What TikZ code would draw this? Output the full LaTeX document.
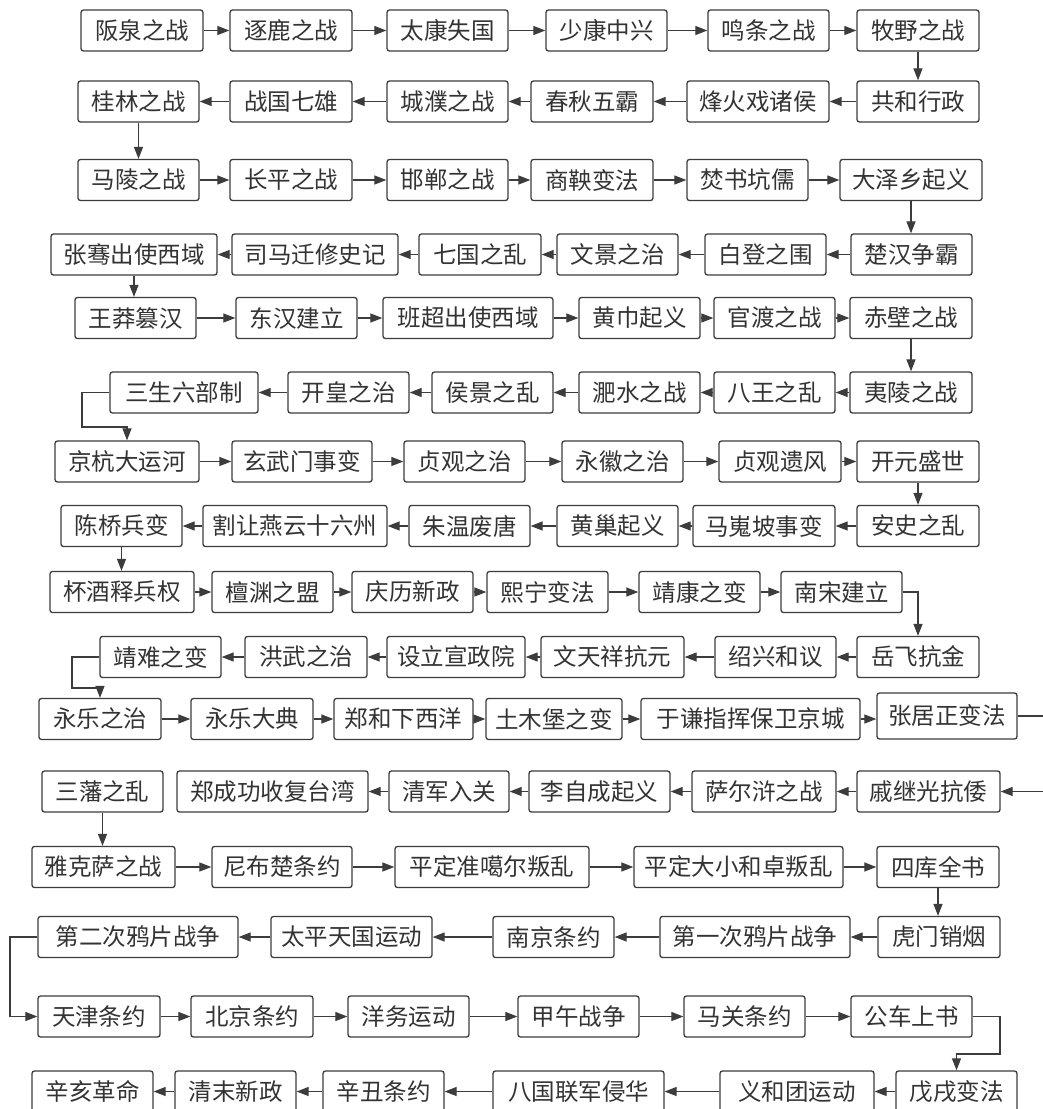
\documentclass[tikz,border=0pt]{standalone}
\usepackage{fontspec}
\newfontfamily\cjk{Noto Sans CJK SC}
\usetikzlibrary{arrows.meta}
\definecolor{ink}{HTML}{333333}
\definecolor{edge}{HTML}{3C3C3C}
\newcommand\evt[6]{\node[evbox,minimum width={#3-#2},minimum height=#5] (#1) at ({(#2+#3)/2},#4) {#6};}
\begin{document}
\begin{tikzpicture}[x=1pt,y=-1pt,
  evbox/.style={draw=edge, line width=1.3pt, rounded corners=2.5pt, inner sep=0pt,
    font=\cjk\fontsize{23.5}{23.5}\selectfont, text=ink, fill=white},
  link/.style={draw=edge, line width=1.2pt, -{Triangle[length=12pt,width=9pt]}}]
\useasboundingbox (0,0) rectangle (1043,1109);
\fill[white] (0,0) rectangle (1043,1109);
% Row 1
\evt{banquan}{81}{203}{30.5}{41}{阪泉之战}
\evt{zhulu}{230}{352}{30.5}{41}{逐鹿之战}
\evt{taikang}{387}{508}{30.5}{41}{太康失国}
\evt{shaokang}{546}{667}{30.5}{41}{少康中兴}
\evt{mingtiao}{708}{829}{30.5}{41}{鸣条之战}
\evt{muye}{857}{979}{30.5}{41}{牧野之战}
% Row 2
\evt{guilin}{78}{199}{101.5}{41}{桂林之战}
\evt{zhanguo}{230}{352}{101.5}{41}{战国七雄}
\evt{chengpu}{387}{508}{101.5}{41}{城濮之战}
\evt{chunqiu}{531}{653}{101.5}{41}{春秋五霸}
\evt{fenghuo}{687}{829}{101.5}{41}{烽火戏诸侯}
\evt{gonghe}{857}{979}{101.5}{41}{共和行政}
% Row 3
\evt{maling}{78}{199}{180}{41}{马陵之战}
\evt{changping}{230}{352}{180}{41}{长平之战}
\evt{handan}{387}{508}{180}{41}{邯郸之战}
\evt{shangyang}{531}{653}{180}{41}{商鞅变法}
\evt{fenshu}{687}{808}{180}{41}{焚书坑儒}
\evt{dazexiang}{840}{982}{180}{41}{大泽乡起义}
% Row 4
\evt{zhangqian}{51}{217}{254.5}{41}{张骞出使西域}
\evt{simaqian}{232}{398}{254.5}{41}{司马迁修史记}
\evt{qiguo}{419}{541}{254.5}{41}{七国之乱}
\evt{wenjing}{557}{678}{254.5}{41}{文景之治}
\evt{baideng}{705}{826}{254.5}{41}{白登之围}
\evt{chuhan}{851}{972}{254.5}{41}{楚汉争霸}
% Row 5
\evt{wangmang}{75}{196}{318}{41}{王莽篡汉}
\evt{donghan}{236}{357}{318}{41}{东汉建立}
\evt{banchao}{383}{553}{318}{41}{班超出使西域}
\evt{huangjin}{579}{700}{318}{41}{黄巾起义}
\evt{guandu}{714}{835}{318}{41}{官渡之战}
\evt{chibi}{850}{972}{318}{41}{赤壁之战}
% Row 6
\evt{sansheng}{110}{258}{392.5}{41}{三生六部制}
\evt{kaihuang}{288}{409}{392.5}{41}{开皇之治}
\evt{houjing}{432}{553}{392.5}{41}{侯景之乱}
\evt{feishui}{579}{700}{392.5}{41}{淝水之战}
\evt{bawang}{714}{835}{392.5}{41}{八王之乱}
\evt{yiling}{850}{972}{392.5}{41}{夷陵之战}
% Row 7
\evt{jinghang}{55}{199}{461.5}{41}{京杭大运河}
\evt{xuanwu}{232}{372}{461.5}{41}{玄武门事变}
\evt{zhenguan}{404}{525}{461.5}{41}{贞观之治}
\evt{yonghui}{562}{683}{461.5}{41}{永徽之治}
\evt{yifeng}{719}{841}{461.5}{41}{贞观遗风}
\evt{kaiyuan}{857}{979}{461.5}{41}{开元盛世}
% Row 8
\evt{chenqiao}{61}{182}{526}{41}{陈桥兵变}
\evt{yanyun}{203}{387}{526}{41}{割让燕云十六州}
\evt{zhuwen}{409}{530}{526}{41}{朱温废唐}
\evt{huangchao}{557}{678}{526}{41}{黄巢起义}
\evt{maweipo}{693}{835}{526}{41}{马嵬坡事变}
\evt{anshi}{857}{979}{526}{41}{安史之乱}
% Row 9
\evt{beijiu}{50}{194}{592}{41}{杯酒释兵权}
\evt{chanyuan}{212}{333}{592}{41}{檀渊之盟}
\evt{qingli}{352}{473}{592}{41}{庆历新政}
\evt{xining}{487}{608}{592}{41}{熙宁变法}
\evt{jingkang}{639}{760}{592}{41}{靖康之变}
\evt{nansong}{781}{902}{592}{41}{南宋建立}
% Row 10
\evt{jingnan}{100}{221}{657}{41}{靖难之变}
\evt{hongwu}{245}{367}{657}{41}{洪武之治}
\evt{xuanzheng}{387}{525}{657}{41}{设立宣政院}
\evt{wentx}{541}{684}{657}{41}{文天祥抗元}
\evt{shaoxing}{715}{836}{657}{41}{绍兴和议}
\evt{yuefei}{857}{979}{657}{41}{岳飞抗金}
% Row 11
\evt{yonglezhi}{39}{161}{719}{41}{永乐之治}
\evt{dadian}{191}{313}{719}{41}{永乐大典}
\evt{zhenghe}{334}{473}{719}{41}{郑和下西洋}
\evt{tumu}{486}{622}{719}{41}{土木堡之变}
\evt{yuqian}{641}{860}{719}{41}{于谦指挥保卫京城}
\evt{zhangjz}{877}{1017}{716}{46}{张居正变法}
% Row 12
\evt{sanfan}{42}{163}{791.5}{41}{三藩之乱}
\evt{zhengcg}{177}{368}{791.5}{41}{郑成功收复台湾}
\evt{qingjun}{389}{509}{791.5}{41}{清军入关}
\evt{lizc}{529}{670}{791.5}{41}{李自成起义}
\evt{saerhu}{692}{836}{791.5}{41}{萨尔浒之战}
\evt{qijg}{857}{1000}{791.5}{41}{戚继光抗倭}
% Row 13
\evt{yakesa}{32}{175}{867}{41}{雅克萨之战}
\evt{nibuchu}{212}{352}{867}{41}{尼布楚条约}
\evt{zhungeer}{395}{589}{867}{41}{平定准噶尔叛乱}
\evt{hezhuo}{634}{843}{867}{41}{平定大小和卓叛乱}
\evt{siku}{877}{999}{867}{41}{四库全书}
% Row 14
\evt{dierci}{38}{238}{937}{41}{第二次鸦片战争}
\evt{taiping}{271}{432}{937}{41}{太平天国运动}
\evt{nanjing}{493}{614}{937}{41}{南京条约}
\evt{diyici}{660}{850}{937}{41}{第一次鸦片战争}
\evt{humen}{878}{1000}{937}{41}{虎门销烟}
% Row 15
\evt{tianjin}{38}{160}{1016.5}{41}{天津条约}
\evt{beijingty}{191}{313}{1016.5}{41}{北京条约}
\evt{yangwu}{348}{469}{1016.5}{41}{洋务运动}
\evt{jiawu}{518}{639}{1016.5}{41}{甲午战争}
\evt{maguan}{684}{805}{1016.5}{41}{马关条约}
\evt{gongche}{851}{972}{1016.5}{41}{公车上书}
% Row 16
\evt{xinhai}{32}{153}{1091.5}{41}{辛亥革命}
\evt{qingmo}{175}{296}{1091.5}{41}{清末新政}
\evt{xinchou}{323}{444}{1091.5}{41}{辛丑条约}
\evt{baguo}{493}{664}{1091.5}{41}{八国联军侵华}
\evt{yihetuan}{720}{874}{1091.5}{41}{义和团运动}
\evt{wuxu}{896}{1017}{1091.5}{41}{戊戌变法}
% horizontal chains
\foreach \a/\b in {banquan/zhulu,zhulu/taikang,taikang/shaokang,shaokang/mingtiao,mingtiao/muye,
  gonghe/fenghuo,fenghuo/chunqiu,chunqiu/chengpu,chengpu/zhanguo,zhanguo/guilin,
  maling/changping,changping/handan,handan/shangyang,shangyang/fenshu,fenshu/dazexiang,
  chuhan/baideng,baideng/wenjing,wenjing/qiguo,qiguo/simaqian,simaqian/zhangqian,
  wangmang/donghan,donghan/banchao,banchao/huangjin,huangjin/guandu,guandu/chibi,
  yiling/bawang,bawang/feishui,feishui/houjing,houjing/kaihuang,kaihuang/sansheng,
  jinghang/xuanwu,xuanwu/zhenguan,zhenguan/yonghui,yonghui/yifeng,yifeng/kaiyuan,
  anshi/maweipo,maweipo/huangchao,huangchao/zhuwen,zhuwen/yanyun,yanyun/chenqiao,
  beijiu/chanyuan,chanyuan/qingli,qingli/xining,xining/jingkang,jingkang/nansong,
  yuefei/shaoxing,shaoxing/wentx,wentx/xuanzheng,xuanzheng/hongwu,hongwu/jingnan,
  yonglezhi/dadian,dadian/zhenghe,zhenghe/tumu,tumu/yuqian,
  qijg/saerhu,saerhu/lizc,lizc/qingjun,qingjun/zhengcg,
  yakesa/nibuchu,nibuchu/zhungeer,zhungeer/hezhuo,hezhuo/siku,
  humen/diyici,diyici/nanjing,nanjing/taiping,taiping/dierci,
  tianjin/beijingty,beijingty/yangwu,yangwu/jiawu,jiawu/maguan,maguan/gongche,
  wuxu/yihetuan,yihetuan/baguo,baguo/xinchou,xinchou/qingmo,qingmo/xinhai}
  {\draw[link] (\a) -- (\b);}
\draw[link] (yuqian.east) -- (yuqian.east -| zhangjz.west);
% vertical drops
\foreach \a/\b in {muye/gonghe,guilin/maling,dazexiang/chuhan,zhangqian/wangmang,chibi/yiling,
  kaiyuan/anshi,chenqiao/beijiu,sanfan/yakesa,siku/humen}
  {\draw[link] (\a.south) -- (\a.south |- \b.north);}
% elbow connectors
\coordinate (k6) at (82,427);
\draw[link] (sansheng.west) -| (k6) -| (jinghang.north);
\draw[link] (nansong.east) -| (yuefei.north);
\coordinate (k10) at (72,688);
\draw[link] (jingnan.west) -| (k10) -| (yonglezhi.north);
\coordinate (k11) at (1070,716);
\draw[link] (zhangjz.east) -- (k11) |- (qijg.east);
\coordinate (k14) at (10,937);
\draw[link] (dierci.west) -- (k14) |- (tianjin.west);
\coordinate (k15) at (1000,1054);
\draw[link] (gongche.east) -| (k15) -| (wuxu.north);
\end{tikzpicture}
\end{document}
